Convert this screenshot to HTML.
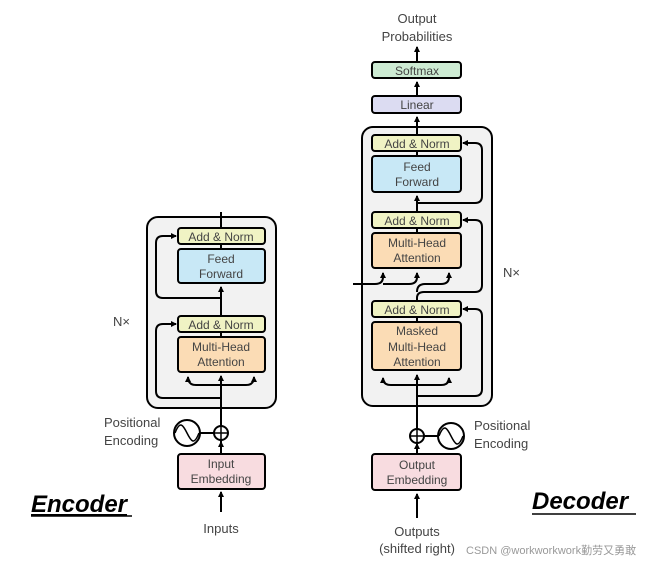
<!DOCTYPE html>
<html><head><meta charset="utf-8"><style>
html,body{margin:0;padding:0;background:#fff;}
svg{display:block;}
text{font-family:"Liberation Sans",sans-serif;fill:#444;}
</style></head><body>
<svg width="663" height="565" viewBox="0 0 663 565" xmlns="http://www.w3.org/2000/svg">
<defs>
<marker id="a" markerWidth="6" markerHeight="6" refX="5" refY="3" orient="auto" markerUnits="userSpaceOnUse"><path d="M0,0 L6,3 L0,6 z" fill="#000"/></marker>
</defs>
<g stroke="#000" stroke-width="2" fill="none">
<!-- ENCODER -->
<rect x="147" y="217" width="129" height="191" rx="11" fill="#f2f2f2"/>
<line x1="221" y1="212" x2="221" y2="228"/>
<line x1="221" y1="244" x2="221" y2="249"/>
<line x1="221" y1="316" x2="221" y2="287" marker-end="url(#a)"/>
<line x1="221" y1="332" x2="221" y2="337"/>
<path d="M221,298 H163 Q156,298 156,291 V243 Q156,236 163,236 H176" marker-end="url(#a)"/>
<path d="M221,398 H163 Q156,398 156,391 V331 Q156,324 163,324 H176" marker-end="url(#a)"/>
<line x1="221" y1="447" x2="221" y2="376" marker-end="url(#a)"/>
<path d="M221,385 H196 Q188,385 188,377" marker-end="url(#a)"/>
<path d="M221,385 H246 Q254,385 254,377" marker-end="url(#a)"/>
<line x1="221" y1="454" x2="221" y2="442" marker-end="url(#a)"/>
<line x1="221" y1="512" x2="221" y2="492" marker-end="url(#a)"/>
<circle cx="221" cy="433" r="7" fill="#fff"/>
<line x1="214" y1="433" x2="228" y2="433" stroke-width="1.5"/>
<line x1="221" y1="426" x2="221" y2="440" stroke-width="1.5"/>
<circle cx="187" cy="433" r="13" fill="#fff"/>
<path d="M175,433 C180,420 183,425 187,433 C191,441 194,446 199,433" stroke-width="1.5"/>
<line x1="200" y1="433" x2="214" y2="433"/>
<rect x="178" y="228" width="87" height="16" rx="3" fill="#f0f3c4"/>
<rect x="178" y="249" width="87" height="34" rx="3" fill="#c8e8f6"/>
<rect x="178" y="316" width="87" height="16" rx="3" fill="#f0f3c4"/>
<rect x="178" y="337" width="87" height="35" rx="3" fill="#fbdcb5"/>
<rect x="178" y="454" width="87" height="35" rx="3" fill="#f8dce0"/>

<!-- DECODER -->
<rect x="362" y="127" width="130" height="279" rx="11" fill="#f2f2f2"/>
<line x1="417" y1="135" x2="417" y2="117" marker-end="url(#a)"/>
<line x1="417" y1="96" x2="417" y2="82" marker-end="url(#a)"/>
<line x1="417" y1="62" x2="417" y2="47" marker-end="url(#a)"/>
<line x1="417" y1="151" x2="417" y2="156"/>
<line x1="417" y1="212" x2="417" y2="196" marker-end="url(#a)"/>
<line x1="417" y1="228" x2="417" y2="233"/>
<line x1="417" y1="317" x2="417" y2="322"/>
<path d="M417,203 H475 Q482,203 482,196 V150 Q482,143 475,143 H463" marker-end="url(#a)"/>
<path d="M417,301 V298 Q417,292 424,292 H475 Q482,292 482,285 V227 Q482,220 475,220 H463" marker-end="url(#a)"/>
<path d="M417,292 Q417,284 425,284 H441 Q449,284 449,277 V273" marker-end="url(#a)"/>
<path d="M353,284 H375 Q383,284 383,277 V273" marker-end="url(#a)"/>
<path d="M383,284 H409 Q417,284 417,277 V273" marker-end="url(#a)"/>
<path d="M417,396 H475 Q482,396 482,389 V316 Q482,309 475,309 H463" marker-end="url(#a)"/>
<line x1="417" y1="429" x2="417" y2="375" marker-end="url(#a)"/>
<path d="M417,385 H391 Q383,385 383,378" marker-end="url(#a)"/>
<path d="M417,385 H441 Q449,385 449,378" marker-end="url(#a)"/>
<line x1="417" y1="454" x2="417" y2="444" marker-end="url(#a)"/>
<line x1="417" y1="518" x2="417" y2="494" marker-end="url(#a)"/>
<circle cx="417" cy="436" r="7" fill="#fff"/>
<line x1="410" y1="436" x2="424" y2="436" stroke-width="1.5"/>
<line x1="417" y1="429" x2="417" y2="443" stroke-width="1.5"/>
<line x1="424" y1="436" x2="438" y2="436"/>
<circle cx="451" cy="436" r="13" fill="#fff"/>
<path d="M439,436 C444,423 447,428 451,436 C455,444 458,449 463,436" stroke-width="1.5"/>
<rect x="372" y="62" width="89" height="16" rx="3" fill="#cdebd3"/>
<rect x="372" y="96" width="89" height="17" rx="3" fill="#dcdcf2"/>
<rect x="372" y="135" width="89" height="16" rx="3" fill="#f0f3c4"/>
<rect x="372" y="156" width="89" height="36" rx="3" fill="#c8e8f6"/>
<rect x="372" y="212" width="89" height="16" rx="3" fill="#f0f3c4"/>
<rect x="372" y="233" width="89" height="35" rx="3" fill="#fbdcb5"/>
<rect x="372" y="301" width="89" height="16" rx="3" fill="#f0f3c4"/>
<rect x="372" y="322" width="89" height="48" rx="3" fill="#fbdcb5"/>
<rect x="372" y="454" width="89" height="36" rx="3" fill="#f8dce0"/>
</g>
<g font-size="12" text-anchor="middle">
<text x="221" y="241">Add &amp; Norm</text>
<text x="221" y="263">Feed</text><text x="221" y="278">Forward</text>
<text x="221" y="329">Add &amp; Norm</text>
<text x="221" y="351">Multi-Head</text><text x="221" y="366">Attention</text>
<text x="221" y="468">Input</text><text x="221" y="483">Embedding</text>
<text x="221" y="533" font-size="13">Inputs</text>
<text x="417" y="75">Softmax</text>
<text x="417" y="109">Linear</text>
<text x="417" y="148">Add &amp; Norm</text>
<text x="417" y="171">Feed</text><text x="417" y="186">Forward</text>
<text x="417" y="225">Add &amp; Norm</text>
<text x="417" y="247">Multi-Head</text><text x="417" y="262">Attention</text>
<text x="417" y="314">Add &amp; Norm</text>
<text x="417" y="335">Masked</text><text x="417" y="351">Multi-Head</text><text x="417" y="366">Attention</text>
<text x="417" y="469">Output</text><text x="417" y="484">Embedding</text>
<text x="417" y="23" font-size="13">Output</text><text x="417" y="41" font-size="13">Probabilities</text>
<text x="417" y="536" font-size="13">Outputs</text><text x="417" y="553" font-size="13">(shifted right)</text>
</g>
<g font-size="13">
<text x="104" y="427">Positional</text><text x="104" y="445">Encoding</text>
<text x="474" y="430">Positional</text><text x="474" y="448">Encoding</text>
<text x="113" y="326">N×</text>
<text x="503" y="277">N×</text>
</g>
<text x="31" y="512" font-size="24" font-weight="bold" font-style="italic" style="fill:#000;text-decoration:underline">Encoder</text>
<line x1="31" y1="516" x2="132" y2="516" stroke="#000" stroke-width="1.5"/>
<text x="532" y="509" font-size="24" font-weight="bold" font-style="italic" style="fill:#000">Decoder</text>
<line x1="532" y1="514" x2="636" y2="514" stroke="#000" stroke-width="1.5"/>
<text x="466" y="554" font-size="11" style="fill:#999;font-family:'Liberation Sans','Noto Sans CJK SC',sans-serif">CSDN @workworkwork勤劳又勇敢</text>
</svg>
</body></html>
